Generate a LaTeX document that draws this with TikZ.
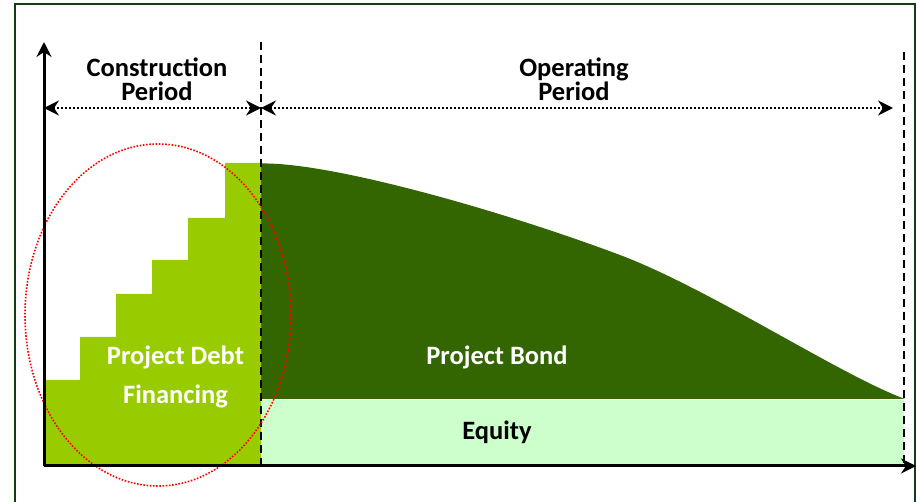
\documentclass[tikz,border=0pt]{standalone}
\usepackage{fontspec}
\setmainfont{Carlito}
\usetikzlibrary{arrows.meta}
\definecolor{debtgreen}{HTML}{99CC00}
\definecolor{bondgreen}{HTML}{336600}
\definecolor{equitygreen}{HTML}{CCFFCC}
\definecolor{framegreen}{HTML}{123F12}
\begin{document}
\begin{tikzpicture}[x=1pt,y=-1pt,
  tip/.style={-{Stealth[length=15pt,width=15pt,inset=5pt]}},
  axis/.style={line width=3pt,tip},
  span/.style={line width=2pt,dash pattern=on 2pt off 2pt,
    {Stealth[length=15pt,width=15pt,inset=5pt]}-{Stealth[length=15pt,width=15pt,inset=5pt]}},
  divider/.style={line width=2pt,dash pattern=on 8pt off 5pt},
  lbl/.style={font=\fontsize{26.5}{28}\selectfont\bfseries,inner sep=0pt,anchor=base},
  inlbl/.style={lbl,text=white},
  focus/.style={red,line width=1.6pt,dash pattern=on 1.6pt off 1.6pt}]
\useasboundingbox (0,0) rectangle (916,502);

% outer frame
\draw[framegreen,line width=2pt] (15,503) -- (15,4) -- (915,4) -- (915,503);

% key positions
\coordinate (origin) at (44,466);
\coordinate (ytop) at (44,42);
\coordinate (xend) at (916,466);
\coordinate (splittop) at (261,42);
\coordinate (splitbot) at (261,466);
\coordinate (endtop) at (904,52);
\coordinate (endbot) at (904,466);
\coordinate (spanL) at (44,108);
\coordinate (spanM) at (261,108);
\coordinate (spanR) at (893,108);

% equity block
\fill[equitygreen] (261,399) rectangle (904,466);

% project bond profile: repayment curve
\fill[bondgreen] (261,399) -- (261,163.5)
  .. controls (330,162) and (500,210) .. (620,255)
  .. controls (710,289) and (840,375) .. (905,399)
  -- cycle;
\draw[white,line width=1pt] (261,399.5) -- (904,399.5);

% construction-phase staircase
\fill[debtgreen] (44,466) -- (44,380) -- (80,380) -- (80,337) -- (116,337)
  -- (116,294) -- (152,294) -- (152,260) -- (188,260) -- (188,218)
  -- (225,218) -- (225,163) -- (261,163) -- (261,466) -- cycle;

% period dividers
\draw[divider] (splittop) -- (splitbot);
\draw[divider] (endtop) -- (endbot);

% highlight around the debt financing
\draw[focus] (158,315) ellipse [x radius=133, y radius=171];

% axes
\draw[axis] (origin) -- (ytop);
\draw[axis] (origin) -- (xend);

% period spans
\draw[span] (spanL) -- (spanM);
\draw[span] (spanM) -- (spanR);

% labels
\node[lbl] (con1) at (157,77) {Construction};
\node[lbl] (con2) at (157,101) {Period};
\node[lbl] (op1) at (574,77) {Operating};
\node[lbl] (op2) at (574,101) {Period};
\node[inlbl] (debt1) at (175.5,365) {Project Debt};
\node[inlbl] (debt2) at (175.5,404) {Financing};
\node[inlbl] (bond) at (497,365) {Project Bond};
\node[lbl] (equity) at (497,440) {Equity};
\end{tikzpicture}
\end{document}
